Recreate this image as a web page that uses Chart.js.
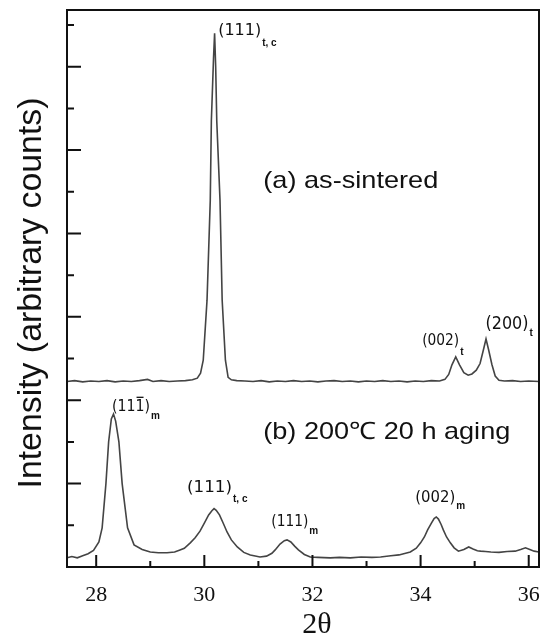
<!DOCTYPE html>
<html>
<head>
<meta charset="utf-8">
<script src="https://cdn.jsdelivr.net/npm/chart.js@4.4.1/dist/chart.umd.min.js"></script>
<style>
  body { margin: 0; background: #fff; }
  #wrap { width: 547px; height: 641px; position: relative; }
</style>
</head>
<body>
<div id="wrap"><canvas id="canvas"></canvas></div>
<script>
// (a) as-sintered (y in tick units, trace already offset)
var xA = [27.46, 27.6, 27.75, 27.9, 28.05, 28.2, 28.35, 28.5, 28.65, 28.8, 28.95, 29.05, 29.2, 29.35, 29.5, 29.65,
  29.78, 29.87, 29.93, 29.98, 30.05, 30.11, 30.13, 30.17, 30.19, 30.21, 30.23, 30.29, 30.33, 30.39, 30.44, 30.5,
  30.6, 30.75, 30.9, 31.05, 31.2, 31.35, 31.5, 31.65, 31.8, 31.95, 32.1, 32.25, 32.4, 32.55, 32.7, 32.85, 33.0,
  33.15, 33.3, 33.45, 33.6, 33.75, 33.9, 34.05, 34.2, 34.35, 34.45, 34.52, 34.58, 34.65, 34.72, 34.8, 34.88,
  34.95, 35.03, 35.1, 35.16, 35.21, 35.26, 35.32, 35.38, 35.45, 35.55, 35.7, 35.85, 36.0, 36.19];
var yA = [4.45, 4.47, 4.44, 4.46, 4.45, 4.47, 4.44, 4.46, 4.45, 4.47, 4.50, 4.45, 4.47, 4.45, 4.46, 4.47,
  4.49, 4.53, 4.65, 4.96, 6.4, 8.8, 10.7, 12.2, 12.8, 12.0, 10.7, 8.8, 6.4, 4.96, 4.55, 4.49,
  4.47, 4.46, 4.45, 4.47, 4.44, 4.46, 4.45, 4.47, 4.45, 4.46, 4.44, 4.46, 4.47, 4.45, 4.46, 4.44, 4.46,
  4.45, 4.47, 4.45, 4.46, 4.44, 4.46, 4.45, 4.47, 4.46, 4.50, 4.62, 4.85, 5.04, 4.85, 4.66, 4.60,
  4.63, 4.72, 4.88, 5.2, 5.47, 5.2, 4.85, 4.58, 4.48, 4.46, 4.47, 4.45, 4.46, 4.45];

// (b) 200 C 20 h aging
var xB = [27.46, 27.55, 27.65, 27.75, 27.85, 27.95, 28.05, 28.11, 28.18, 28.23, 28.28, 28.32, 28.36, 28.42, 28.48,
  28.58, 28.7, 28.85, 29.0, 29.15, 29.31, 29.45, 29.55, 29.63, 29.74, 29.83, 29.92, 30.0, 30.08, 30.14, 30.18,
  30.22, 30.28, 30.35, 30.42, 30.5, 30.61, 30.73, 30.85, 31.03, 31.15, 31.25, 31.31, 31.4, 31.48, 31.53, 31.6,
  31.67, 31.74, 31.85, 31.96, 32.1, 32.33, 32.5, 32.7, 32.9, 33.1, 33.26, 33.45, 33.6, 33.81, 33.92, 34.0,
  34.07, 34.13, 34.2, 34.25, 34.29, 34.33, 34.38, 34.42, 34.48, 34.55, 34.62, 34.7, 34.8, 34.89, 34.97, 35.05,
  35.11, 35.2, 35.3, 35.45, 35.6, 35.75, 35.85, 35.94, 36.02, 36.1, 36.19];
var yB = [0.22, 0.25, 0.22, 0.27, 0.32, 0.40, 0.60, 0.94, 2.0, 3.0, 3.55, 3.67, 3.5, 3.0, 2.0,
  0.94, 0.53, 0.42, 0.36, 0.34, 0.34, 0.36, 0.41, 0.45, 0.58, 0.70, 0.86, 1.05, 1.25, 1.35, 1.40,
  1.36, 1.25, 1.05, 0.84, 0.65, 0.48, 0.35, 0.29, 0.24, 0.26, 0.33, 0.41, 0.55, 0.63, 0.65, 0.60,
  0.50, 0.41, 0.30, 0.24, 0.23, 0.22, 0.23, 0.22, 0.24, 0.23, 0.24, 0.27, 0.29, 0.36, 0.45, 0.58,
  0.72, 0.89, 1.05, 1.16, 1.2, 1.15, 1.02, 0.89, 0.72, 0.58, 0.46, 0.38, 0.42, 0.48, 0.43, 0.39,
  0.38, 0.37, 0.36, 0.35, 0.37, 0.38, 0.42, 0.46, 0.42, 0.38, 0.36];

var xTicks = [28, 29, 30, 31, 32, 33, 34, 35, 36];
var xTickLabels = ['28', '', '30', '', '32', '', '34', '', '36'];
var yTicks = [0, 1, 2, 3, 4, 5, 6, 7, 8, 9, 10, 11, 12, 13];

function pts(xs, ys) {
  return xs.map(function (x, i) { return { x: x, y: ys[i] }; });
}

// peak labels, anchored in data units (left edge, baseline)
var notes = [
  { text: '(111)', sub: 't, c', x: 30.256, y: 12.76, size: 15, width: 43, subDy: 11 },
  { text: '(a) as-sintered', x: 31.09, y: 9.09, size: 24, width: 175, main: true },
  { text: '(002)', sub: 't', x: 34.03, y: 5.32, size: 16, width: 37, subDy: 10 },
  { text: '(200)', sub: 't', x: 35.20, y: 5.71, size: 17, width: 43, subDy: 7 },
  { text: '(111)', sub: 'm', x: 28.293, y: 3.74, size: 16, width: 38, subDy: 8, bar: 3 },
  { text: '(b) 200\u2103 20 h aging', x: 31.09, y: 3.07, size: 24, width: 247, main: true },
  { text: '(111)', sub: 't, c', x: 29.68, y: 1.80, size: 16, width: 45, subDy: 10 },
  { text: '(111)', sub: 'm', x: 31.24, y: 0.98, size: 15, width: 37, subDy: 8 },
  { text: '(002)', sub: 'm', x: 33.90, y: 1.56, size: 16, width: 40, subDy: 7 }
];

function fitText(ctx, text, x, y, width, font) {
  ctx.font = font;
  var w = ctx.measureText(text).width;
  var k = width / w;
  ctx.save();
  ctx.translate(x, y);
  ctx.scale(k, 1);
  ctx.fillText(text, 0, 0);
  ctx.restore();
  return k;
}

var decor = {
  id: 'decor',
  afterDraw: function (chart) {
    var ctx = chart.ctx;
    var a = chart.chartArea;
    var sx = chart.scales.x, sy = chart.scales.y;
    ctx.save();
    ctx.strokeStyle = '#111';
    ctx.fillStyle = '#111';
    ctx.lineWidth = 2;
    ctx.strokeRect(a.left, a.top, a.right - a.left, a.bottom - a.top);

    // inward ticks
    ctx.beginPath();
    xTicks.forEach(function (v) {
      var px = sx.getPixelForValue(v);
      var len = v % 2 === 0 ? 12 : 6;
      ctx.moveTo(px, a.bottom);
      ctx.lineTo(px, a.bottom - len);
    });
    yTicks.forEach(function (v) {
      var py = sy.getPixelForValue(v);
      var len = v % 2 === 0 ? 14 : 7;
      ctx.moveTo(a.left, py);
      ctx.lineTo(a.left + len, py);
    });
    ctx.stroke();

    // x tick labels
    ctx.font = '22px "Liberation Serif", serif';
    ctx.textAlign = 'center';
    ctx.textBaseline = 'middle';
    xTicks.forEach(function (v, i) {
      if (xTickLabels[i]) ctx.fillText(xTickLabels[i], sx.getPixelForValue(v), a.bottom + 28);
    });

    // axis titles
    ctx.textBaseline = 'alphabetic';
    ctx.textAlign = 'center';
    ctx.font = '30px "Liberation Serif", serif';
    ctx.fillText('2\u03b8', (a.left + a.right) / 2 + 14, a.bottom + 66);

    ctx.save();
    ctx.translate(41, (a.top + a.bottom) / 2 + 4);
    ctx.rotate(-Math.PI / 2);
    ctx.textAlign = 'left';
    fitText(ctx, 'Intensity (arbitrary counts)', -196, 0, 391, '33px "Liberation Sans", Arial, sans-serif');
    ctx.restore();

    // peak labels
    ctx.textAlign = 'left';
    notes.forEach(function (n) {
      var px = sx.getPixelForValue(n.x);
      var py = sy.getPixelForValue(n.y);
      var family = n.main ? '"Liberation Sans", Arial, sans-serif' : '"DejaVu Sans", sans-serif';
      var font = n.size + 'px ' + family;
      var k = fitText(ctx, n.text, px, py, n.width, font);
      if (n.bar) {
        ctx.font = font;
        var x0 = px + ctx.measureText(n.text.slice(0, n.bar)).width * k;
        var x1 = px + ctx.measureText(n.text.slice(0, n.bar + 1)).width * k;
        ctx.lineWidth = 1.3;
        ctx.beginPath();
        ctx.moveTo(x0 + 1, py - n.size * 0.86);
        ctx.lineTo(x1 - 1, py - n.size * 0.86);
        ctx.stroke();
      }
      if (n.sub) {
        ctx.font = 'bold 10px "Liberation Sans", Arial, sans-serif';
        ctx.fillText(n.sub, px + n.width + 1, py + n.subDy);
      }
    });
    ctx.restore();
  }
};

var ctx = document.getElementById('canvas').getContext('2d');
var xrdChart = new Chart(ctx, {
  type: 'line',
  data: {
    datasets: [{
      label: '(a) as-sintered',
      data: pts(xA, yA),
      borderColor: '#444',
      borderWidth: 1.6,
      pointRadius: 0,
      tension: 0
    }, {
      label: '(b) 200\u2103 20 h aging',
      data: pts(xB, yB),
      borderColor: '#444',
      borderWidth: 1.6,
      pointRadius: 0,
      tension: 0
    }]
  },
  options: {
    responsive: true,
    maintainAspectRatio: false,
    animation: false,
    layout: { padding: { left: 67, top: 10, right: 8, bottom: 74 } },
    plugins: { legend: { display: false }, tooltip: { enabled: false } },
    scales: {
      x: { type: 'linear', display: false, min: 27.46, max: 36.19 },
      y: { display: false, min: 0, max: 13.36 }
    }
  },
  plugins: [decor]
});
</script>
</body>
</html>
